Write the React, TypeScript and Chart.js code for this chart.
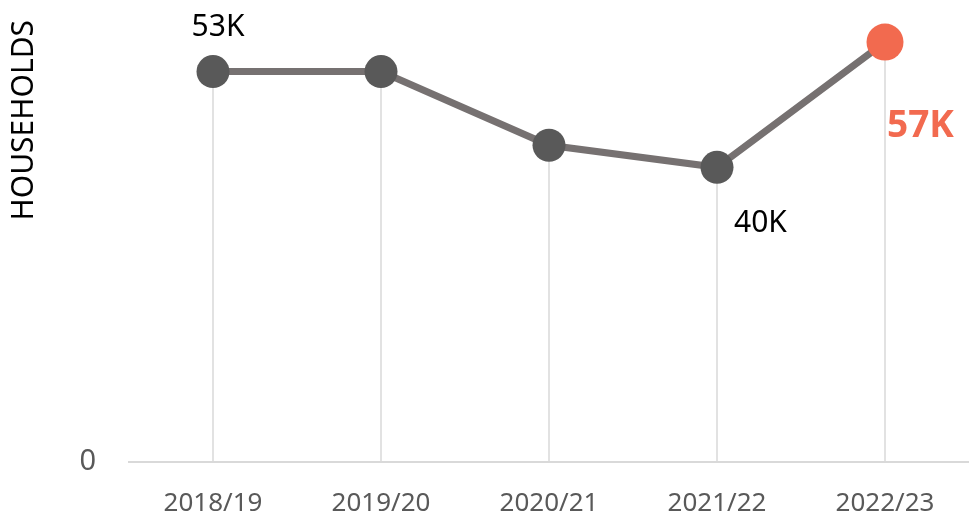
import React, { useEffect, useRef } from "react";
import { Chart, registerables } from "chart.js";

Chart.register(...registerables);

const categories = ["2018/19", "2019/20", "2020/21", "2021/22", "2022/23"];
const households = [53000, 53000, 43000, 40000, 57000];
const valueLabels = ["53K", "", "", "40K", "57K"];
const yTicks = [0];
const yTitle = "HOUSEHOLDS";

const FONT = "'Noto Sans', 'Open Sans', sans-serif";

const dropLines = {
  id: "dropLines",
  beforeDatasetsDraw(chart: any) {
    const meta = chart.getDatasetMeta(0);
    const ctx = chart.ctx;
    const bottom = chart.chartArea.bottom;
    ctx.save();
    ctx.strokeStyle = "#d9d9d9";
    ctx.lineWidth = 1.5;
    meta.data.forEach((p: any) => {
      ctx.beginPath();
      ctx.moveTo(p.x, p.y);
      ctx.lineTo(p.x, bottom);
      ctx.stroke();
    });
    ctx.restore();
  },
};

const valueLabelPlugin = {
  id: "valueLabels",
  afterDatasetsDraw(chart: any) {
    const meta = chart.getDatasetMeta(0);
    const ctx = chart.ctx;
    ctx.save();
    ctx.textBaseline = "alphabetic";
    meta.data.forEach((p: any, i: number) => {
      const txt = valueLabels[i];
      if (!txt) return;
      const last = i === meta.data.length - 1;
      if (i === 0) {
        ctx.font = `30px ${FONT}`;
        ctx.fillStyle = "#000000";
        ctx.textAlign = "center";
        ctx.fillText(txt, p.x + 5, p.y - 36);
      } else if (last) {
        ctx.font = `bold 37px ${FONT}`;
        ctx.fillStyle = "#F26A4F";
        ctx.textAlign = "left";
        ctx.fillText(txt, p.x + 2, p.y + 95);
      } else {
        ctx.font = `30px ${FONT}`;
        ctx.fillStyle = "#000000";
        ctx.textAlign = "left";
        ctx.fillText(txt, p.x + 17, p.y + 65);
      }
    });
    ctx.restore();
  },
};

export default function App() {
  const ref = useRef<HTMLCanvasElement>(null);
  useEffect(() => {
    if (!ref.current) return;
    const n = households.length;
    const chart = new Chart(ref.current, {
      type: "line",
      data: {
        labels: categories,
        datasets: [
          {
            data: households,
            borderColor: "#767171",
            borderWidth: 7,
            pointRadius: households.map((_, i) => (i === n - 1 ? 18.5 : 16.5)),
            pointHoverRadius: households.map((_, i) => (i === n - 1 ? 18.5 : 16.5)),
            pointBorderWidth: 0,
            pointBackgroundColor: households.map((_, i) => (i === n - 1 ? "#F26A4F" : "#595959")),
            pointBorderColor: households.map((_, i) => (i === n - 1 ? "#F26A4F" : "#595959")),
            tension: 0,
            clip: false as any,
          },
        ],
      },
      options: {
        animation: false,
        responsive: false,
        maintainAspectRatio: false,
        layout: { autoPadding: false, padding: { top: 20, right: 0, left: 0, bottom: 0 } },
        plugins: { legend: { display: false }, tooltip: { enabled: false } },
        scales: {
          x: {
            offset: true,
            grid: { display: false },
            border: { display: true, color: "#d9d9d9", width: 2 },
            ticks: { color: "#595959", font: { family: FONT, size: 26 }, padding: 18, maxRotation: 0 },
            afterFit(scale: any) {
              scale.height = 51;
              scale.paddingLeft = 0;
              scale.paddingRight = 0;
            },
          },
          y: {
            min: 0,
            max: 60000,
            grid: { display: false },
            border: { display: false },
            ticks: {
              color: "#595959",
              font: { family: FONT, size: 29 },
              padding: 25,
            },
            afterBuildTicks(scale: any) {
              scale.ticks = yTicks.map((v) => ({ value: v }));
            },
            title: {
              display: true,
              text: yTitle,
              align: "end",
              color: "#000000",
              font: { family: FONT, size: 30 },
              padding: { top: 6, bottom: 0 },
            },
            afterFit(scale: any) {
              scale.width = 129;
              scale.paddingTop = 0;
              scale.paddingBottom = 0;
            },
          },
        },
      },
      plugins: [dropLines, valueLabelPlugin],
    });
    return () => chart.destroy();
  }, []);
  return (
    <div style={{ position: "absolute", left: 0, top: 0, width: 969, height: 513, background: "#fff", overflow: "hidden" }}>
      <canvas ref={ref} width={969} height={513} style={{ display: "block" }} />
    </div>
  );
}
